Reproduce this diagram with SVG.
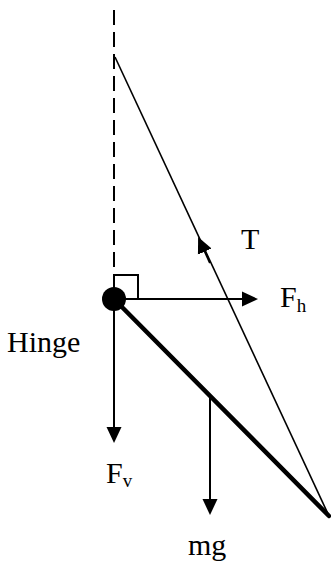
<svg xmlns="http://www.w3.org/2000/svg" width="331" height="564" viewBox="0 0 331 564">
<style>
  .lbl { font-family: "Liberation Serif", "Times New Roman", serif; font-size: 30px; fill: #000; }
  .sub { font-size: 19px; }
  .force { stroke: #000; stroke-width: 2; fill: none; marker-end: url(#arr); }
  .thin { stroke: #000; stroke-width: 1.6; fill: none; }
</style>
<defs>
  <marker id="arr" markerUnits="userSpaceOnUse" markerWidth="16" markerHeight="16" refX="4" refY="7.5" orient="auto" viewBox="0 0 16 15">
    <path d="M0,0 L16,7.5 L0,15 z" fill="#000"/>
  </marker>
</defs>
<rect width="331" height="564" fill="#fff"/>

<g id="vertical">
  <line x1="114" y1="10" x2="114" y2="275" stroke="#000" stroke-width="2" stroke-dasharray="15,7"/>
</g>

<g id="rope">
  <line class="thin" x1="115" y1="57" x2="329" y2="516"/>
</g>

<g id="beam">
  <line x1="114" y1="299" x2="329" y2="516" stroke="#000" stroke-width="4.5" stroke-linecap="round"/>
</g>

<g id="right-angle">
  <path d="M114,299 V275 H138 V299" fill="none" stroke="#000" stroke-width="2"/>
</g>

<g id="connectors">
  <path class="force" d="M114,299 H246"/>
  <path class="force" d="M114,299 V431"/>
  <path class="force" d="M210,396 V503"/>
  <path class="force" d="M210,263 L203.1,247.9" stroke-width="1.6"/>
</g>

<g id="hinge">
  <circle cx="114" cy="299" r="12" fill="#000"/>
  <text class="lbl" x="7" y="352">Hinge</text>
</g>

<g id="label-T"><text class="lbl" x="241" y="249">T</text></g>
<g id="label-Fh"><text class="lbl" x="280" y="307">F<tspan class="sub" dy="5">h</tspan></text></g>
<g id="label-Fv"><text class="lbl" x="106" y="483">F<tspan class="sub" dy="4">v</tspan></text></g>
<g id="label-mg"><text class="lbl" x="188" y="555">mg</text></g>
</svg>
